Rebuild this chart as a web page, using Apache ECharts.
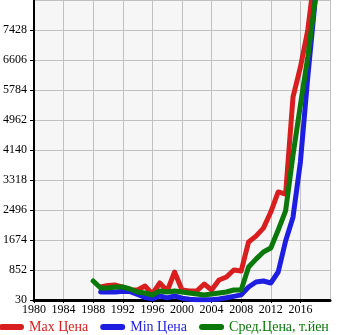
<!DOCTYPE html>
<html>
<head>
<meta charset="utf-8">
<script src="https://cdn.jsdelivr.net/npm/echarts@6/dist/echarts.min.js"></script>
<style>
html,body{margin:0;padding:0;background:#fff;}
#c{width:345px;height:335px;}
</style>
</head>
<body>
<div id="c"></div>
<script>
var years = [1988,1989,1990,1991,1992,1993,1994,1995,1996,1997,1998,1999,2000,2001,2002,2003,2004,2005,2006,2007,2008,2009,2010,2011,2012,2013,2014,2015,2016,2017,2018];
var maxPrice = [null,386,430,440,380,304,304,414,194,496,277,797,304,277,277,468,304,578,660,852,825,1620,1780,2000,2440,2990,2930,5590,6410,7430,9050];
var minPrice = [null,249,250,250,270,260,180,100,60,140,90,140,80,50,40,40,40,60,90,130,170,386,523,550,496,797,1646,2300,3810,6140,8250];
var avgPrice = [551,359,359,386,386,331,249,222,167,277,249,277,249,222,194,167,194,222,249,304,304,934,1150,1345,1455,1948,2470,4000,5370,6690,8250];
var seriesNames = ['Max Цена','Min Цена','Сред.Цена, т.йен'];
var seriesColors = ['#d81e1e','#1e1ee0','#0a780a'];
var yTicks = {min:30, max:8250, interval:822};
var xTicks = {min:1980, max:2020, interval:4};

function pairs(vals){ return years.map(function(y,i){ return [y, vals[i]]; }); }
var font = 'Liberation Serif';
var chart = echarts.init(document.getElementById('c'), null, {renderer:'canvas'});
var allVals = [maxPrice, minPrice, avgPrice];
chart.setOption({
  animation:false,
  backgroundColor:'#ffffff',
  grid:{left:31, right:15, top:0, bottom:35, show:true, backgroundColor:'#f6f6f6', borderWidth:0},
  legend:{
    top:320, left:-1, padding:0, itemGap:12, itemWidth:25, itemHeight:6,
    icon:'path://M3,0H22A3,3,0,0,1,22,6H3A3,3,0,0,1,3,0Z',
    textStyle:{fontFamily:font, fontSize:14},
    data: seriesNames.map(function(n,i){ return {name:n, textStyle:{color:seriesColors[i]}}; })
  },
  xAxis:{
    type:'value', min:xTicks.min, max:xTicks.max, interval:xTicks.interval,
    axisLine:{show:true, onZero:false, lineStyle:{color:'#000', width:3}},
    axisTick:{show:true, length:3, lineStyle:{color:'#000', width:1}},
    axisLabel:{color:'#000', fontFamily:font, fontSize:12, margin:4, showMaxLabel:false,
      formatter:function(v){return String(v);}},
    splitLine:{show:true, lineStyle:{color:'#c0c0c0', width:1}}
  },
  yAxis:{
    type:'value', min:yTicks.min, max:yTicks.max, interval:yTicks.interval,
    axisLine:{show:true, onZero:false, lineStyle:{color:'#000', width:2}},
    axisTick:{show:true, length:4, lineStyle:{color:'#000', width:1}},
    axisLabel:{color:'#000', fontFamily:font, fontSize:12, margin:7, showMaxLabel:false,
      padding:[0,0,7,0], formatter:function(v){return String(v);}},
    splitLine:{show:true, lineStyle:{color:'#c0c0c0', width:1}}
  },
  series: seriesNames.map(function(n,i){
    return {
      name:n, type:'line', data:pairs(allVals[i]), showSymbol:false, symbol:'none',
      color:seriesColors[i],
      lineStyle:{color:seriesColors[i], width:5, cap:'round', join:'round'},
      clip:true
    };
  })
});
</script>
</body>
</html>
